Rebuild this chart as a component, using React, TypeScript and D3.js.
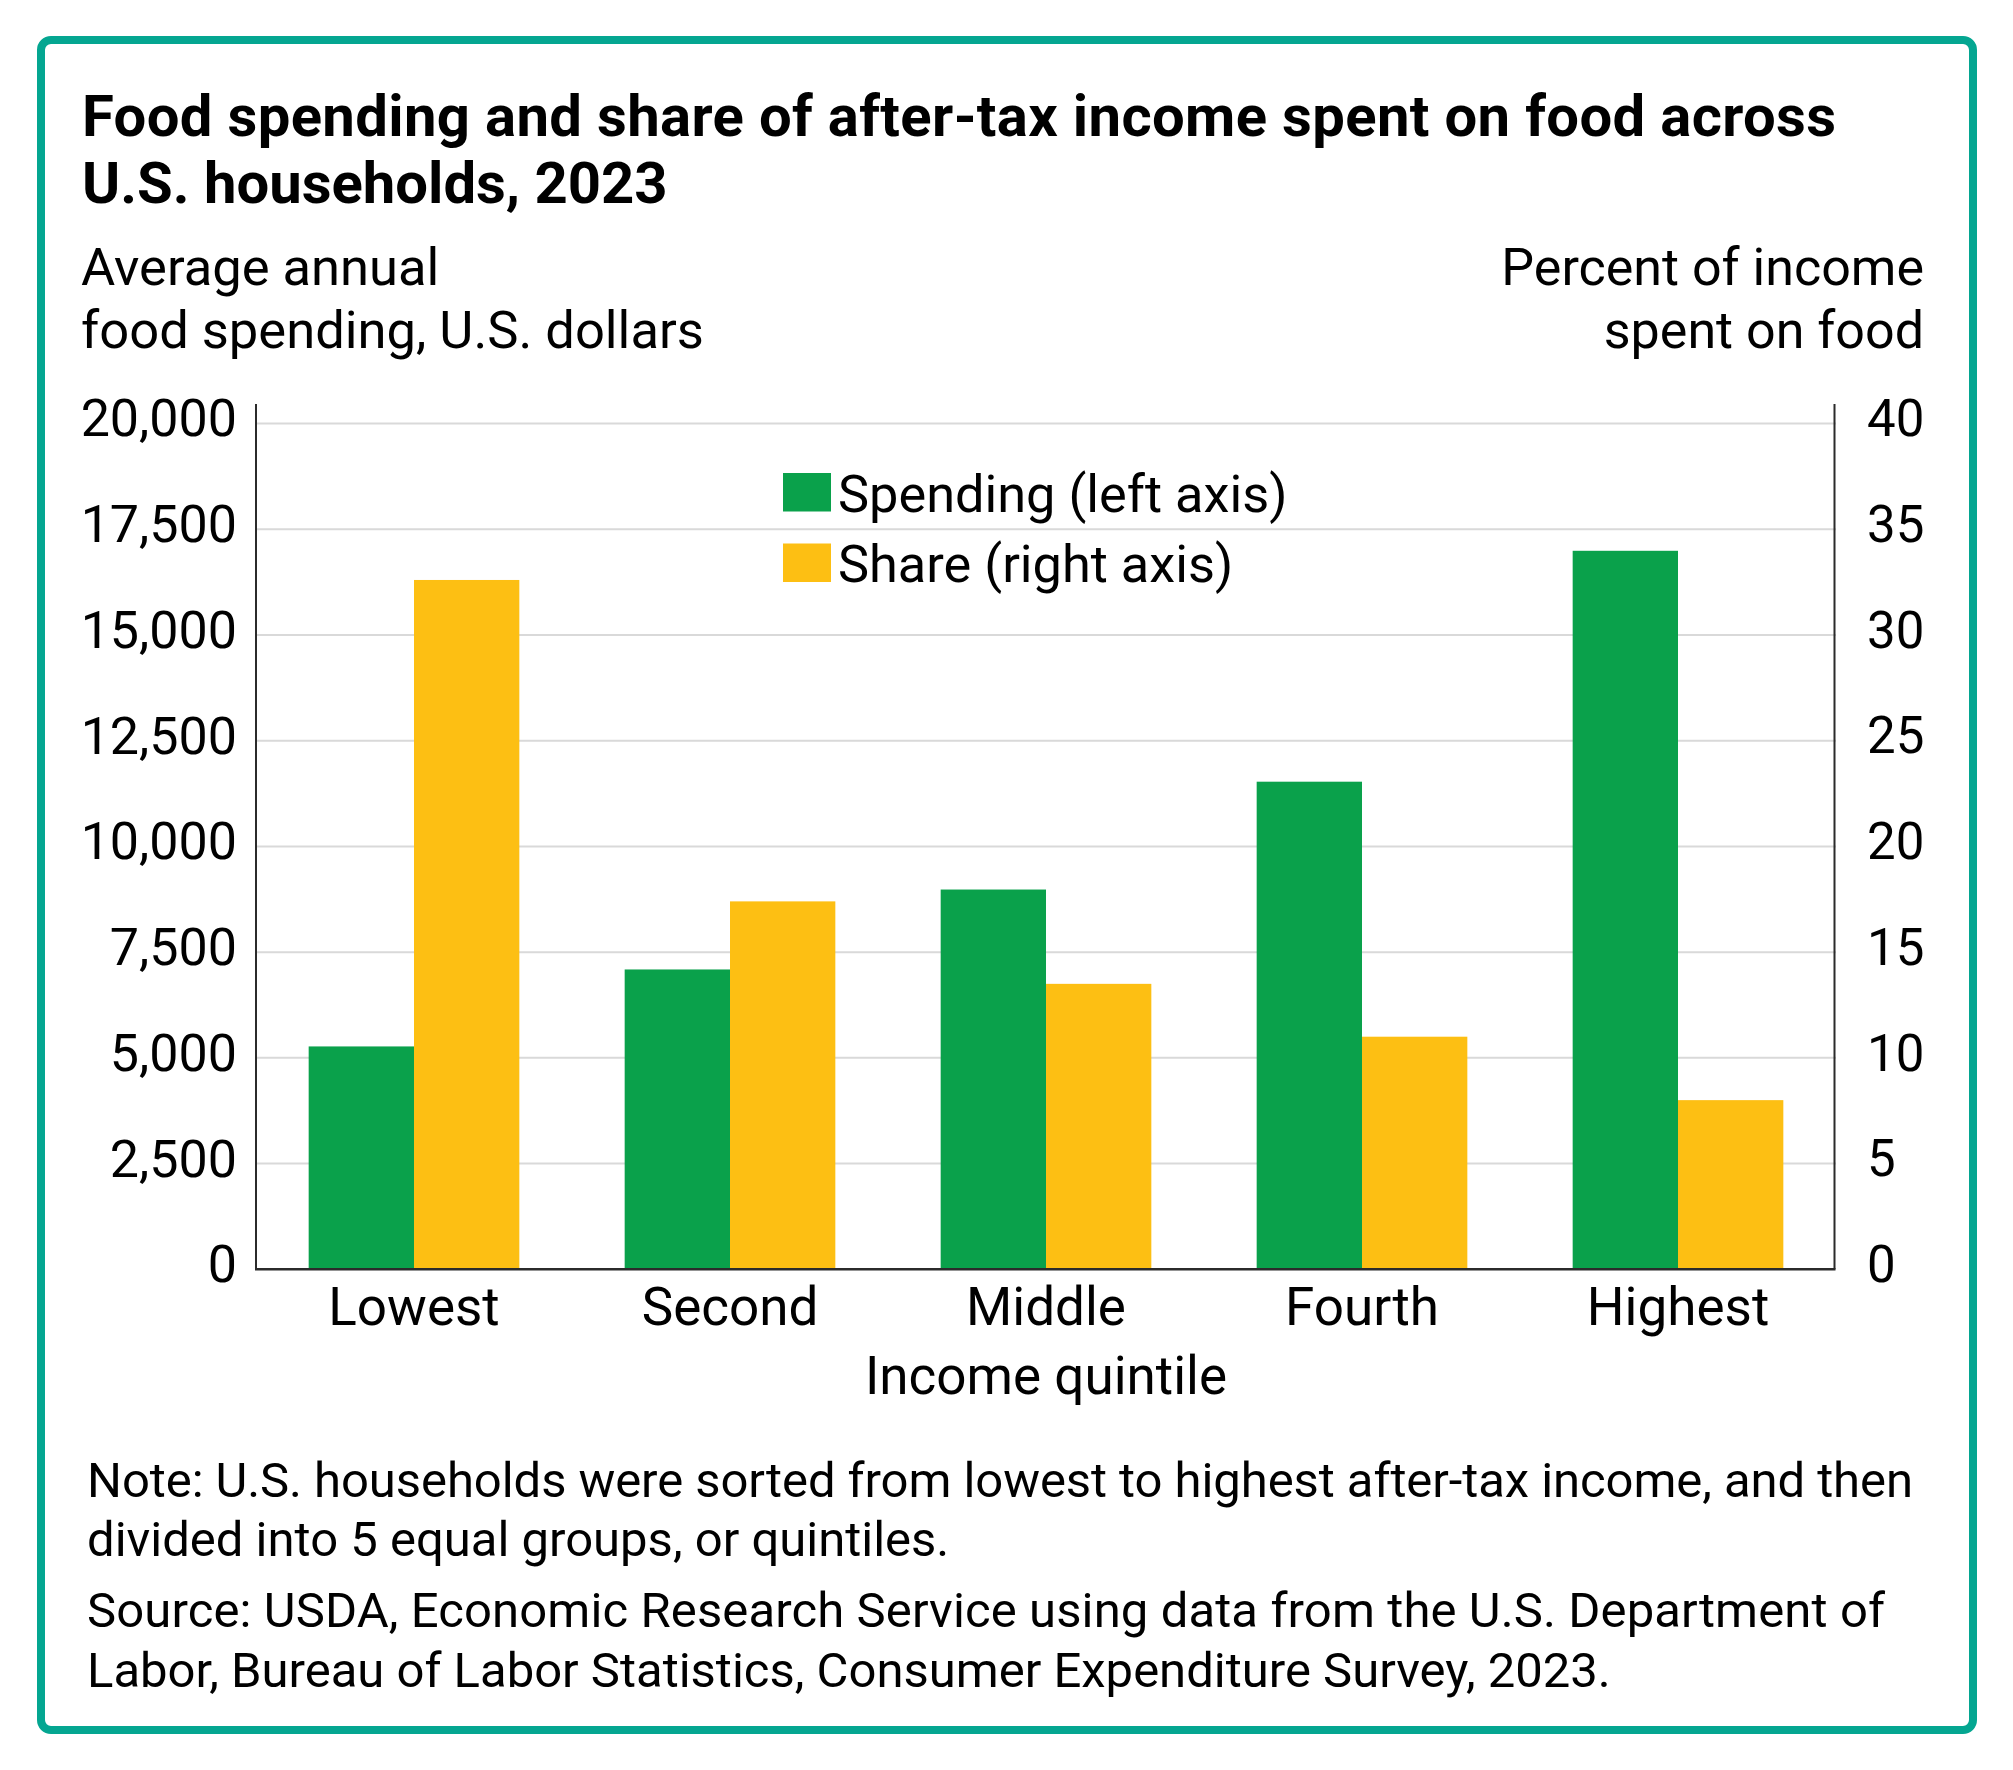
import React, { useEffect, useRef } from 'react';
import * as d3 from 'd3';

const WIDTH = 2013;
const HEIGHT = 1770;
const PLOT = { left: 256, right: 1836, top: 423.5, bottom: 1269.3, axisTop: 404 };

const quintiles = ['Lowest', 'Second', 'Middle', 'Fourth', 'Highest'];
const spending = [5270, 7090, 8980, 11530, 16990];
const share = [32.6, 17.4, 13.5, 11.0, 8.0];
const leftTicks = [0, 2500, 5000, 7500, 10000, 12500, 15000, 17500, 20000];
const rightTicks = [0, 5, 10, 15, 20, 25, 30, 35, 40];
const seriesNames = ['Spending (left axis)', 'Share (right axis)'];

const titleLines = [
  'Food spending and share of after-tax income spent on food across',
  'U.S. households, 2023',
];
const leftTitle = ['Average annual', 'food spending, U.S. dollars'];
const rightTitle = ['Percent of income', 'spent on food'];
const noteLines = [
  'Note: U.S. households were sorted from lowest to highest after-tax income, and then',
  'divided into 5 equal groups, or quintiles.',
];
const sourceLines = [
  'Source: USDA, Economic Research Service using data from the U.S. Department of',
  'Labor, Bureau of Labor Statistics, Consumer Expenditure Survey, 2023.',
];

const GREEN = '#0aa14b';
const YELLOW = '#fdbf13';
const TEAL = '#04a691';
const FONT = 'Roboto, Arial, sans-serif';

const App = () => {
  const ref = useRef<SVGSVGElement>(null);

  useEffect(() => {
    if (!ref.current) return;
    const svg = d3.select(ref.current);
    svg.selectAll('*').remove();

    // frame
    svg
      .append('rect')
      .attr('x', 41)
      .attr('y', 40)
      .attr('width', 1932)
      .attr('height', 1690)
      .attr('rx', 10)
      .attr('fill', 'white')
      .attr('stroke', TEAL)
      .attr('stroke-width', 8);

    const addLines = (
      lines: string[],
      x: number,
      ys: number[],
      size: number,
      weight: number,
      anchor = 'start',
      lengths: (number | null)[] = []
    ) => {
      lines.forEach((t, i) => {
        const txt = svg
          .append('text')
          .attr('x', x)
          .attr('y', ys[i])
          .attr('text-anchor', anchor)
          .style('font-family', FONT)
          .style('font-size', `${size}px`)
          .style('font-weight', weight)
          .style('fill', '#000')
          .text(t);
        if (lengths[i]) txt.attr('textLength', lengths[i]!).attr('lengthAdjust', 'spacing');
      });
    };

    addLines(titleLines, 82, [136, 203], 58, 700, 'start', [1754, null]);
    addLines(leftTitle, 81, [285, 348], 52.5, 400);
    addLines(rightTitle, 1924, [285, 348], 52, 400, 'end');

    // scales
    const x0 = d3.scaleBand().domain(quintiles).range([PLOT.left, PLOT.right]).paddingInner(1 / 3).paddingOuter(1 / 6);
    const x1 = d3.scaleBand().domain(['spending', 'share']).range([0, x0.bandwidth()]);
    const yLeft = d3.scaleLinear().domain([0, 20000]).range([PLOT.bottom, PLOT.top]);
    const yRight = d3.scaleLinear().domain([0, 40]).range([PLOT.bottom, PLOT.top]);

    // gridlines
    svg
      .append('g')
      .selectAll('line')
      .data(leftTicks.filter((d) => d > 0))
      .enter()
      .append('line')
      .attr('x1', PLOT.left)
      .attr('x2', PLOT.right)
      .attr('y1', (d) => yLeft(d))
      .attr('y2', (d) => yLeft(d))
      .attr('stroke', '#d9d9d9')
      .attr('stroke-width', 2);

    // bars
    const groups = svg
      .append('g')
      .selectAll('g')
      .data(quintiles)
      .enter()
      .append('g')
      .attr('transform', (d) => `translate(${x0(d)},0)`);

    groups
      .append('rect')
      .attr('x', x1('spending')!)
      .attr('width', x1.bandwidth())
      .attr('y', (_d, i) => yLeft(spending[i]))
      .attr('height', (_d, i) => PLOT.bottom - yLeft(spending[i]))
      .attr('fill', GREEN);

    groups
      .append('rect')
      .attr('x', x1('share')!)
      .attr('width', x1.bandwidth())
      .attr('y', (_d, i) => yRight(share[i]))
      .attr('height', (_d, i) => PLOT.bottom - yRight(share[i]))
      .attr('fill', YELLOW);

    // axes lines
    const axisColor = '#2b2b2b';
    svg.append('line').attr('x1', PLOT.left).attr('x2', PLOT.left).attr('y1', PLOT.axisTop).attr('y2', PLOT.bottom).attr('stroke', axisColor).attr('stroke-width', 2);
    svg.append('line').attr('x1', PLOT.right - 1.5).attr('x2', PLOT.right - 1.5).attr('y1', PLOT.axisTop).attr('y2', PLOT.bottom).attr('stroke', axisColor).attr('stroke-width', 2);
    svg.append('line').attr('x1', PLOT.left - 1).attr('x2', PLOT.right - 0.5).attr('y1', PLOT.bottom).attr('y2', PLOT.bottom).attr('stroke', axisColor).attr('stroke-width', 2.5);

    // left axis labels
    const leftAxis = d3.axisLeft(yLeft).tickValues(leftTicks).tickSize(0).tickPadding(19).tickFormat((d) => d3.format(',')(d as number));
    const gl = svg.append('g').attr('class', 'y-left').attr('transform', `translate(${PLOT.left},0)`).call(leftAxis);
    gl.select('.domain').remove();
    gl.selectAll('text').attr('dy', '0.24em').style('font-family', FONT).style('font-size', '52px').style('fill', '#000');

    const rightAxis = d3.axisRight(yRight).tickValues(rightTicks).tickSize(0).tickPadding(31).tickFormat((d) => `${d}`);
    const gr = svg.append('g').attr('class', 'y-right').attr('transform', `translate(${PLOT.right},0)`).call(rightAxis);
    gr.select('.domain').remove();
    gr.selectAll('text').attr('dy', '0.24em').style('font-family', FONT).style('font-size', '51px').style('fill', '#000');

    const bottomAxis = d3.axisBottom(x0).tickSize(0).tickPadding(0);
    const gb = svg.append('g').attr('class', 'x-axis').attr('transform', `translate(0,${PLOT.bottom})`).call(bottomAxis);
    gb.select('.domain').remove();
    gb.selectAll('text').attr('y', 56).attr('dy', 0).style('font-family', FONT).style('font-size', '53px').style('fill', '#000');

    svg
      .append('text')
      .attr('x', (PLOT.left + PLOT.right) / 2)
      .attr('y', 1394)
      .attr('text-anchor', 'middle')
      .style('font-family', FONT)
      .style('font-size', '53px')
      .text('Income quintile');

    // legend
    const legend = svg.append('g').attr('transform', 'translate(783,473)');
    [GREEN, YELLOW].forEach((c, i) => {
      legend.append('rect').attr('x', 0).attr('y', i * 70.5).attr('width', 48).attr('height', 38.5).attr('fill', c);
      legend
        .append('text')
        .attr('x', 55)
        .attr('y', i * 70.5 + 38.5)
        .style('font-family', FONT)
        .style('font-size', '52.3px')
        .text(seriesNames[i]);
    });

    addLines(noteLines, 87, [1497, 1556], 49, 400, 'start', [1826, null]);
    addLines(sourceLines, 87, [1627, 1687], 49, 400, 'start', [1798, null]);
  }, []);

  return (
    <svg
      ref={ref}
      width={WIDTH}
      height={HEIGHT}
      style={{ position: 'absolute', left: 0, top: 0, background: 'white' }}
    />
  );
};

export default App;
